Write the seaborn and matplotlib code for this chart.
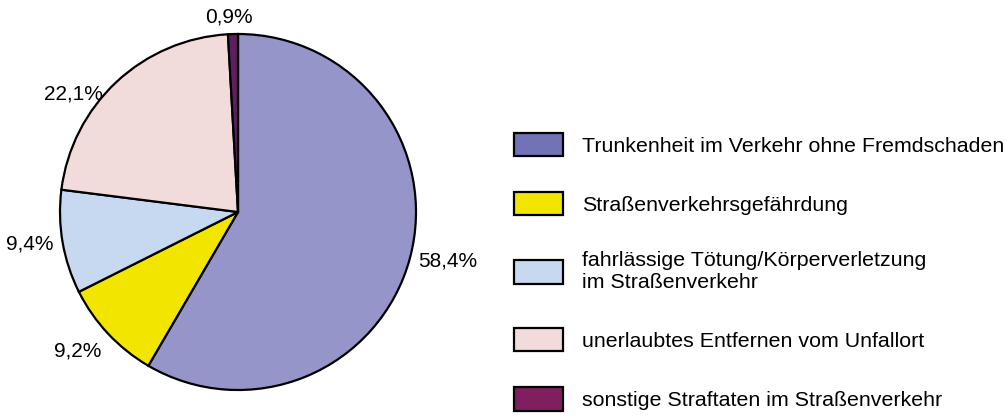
import matplotlib
matplotlib.use("Agg")
import matplotlib.pyplot as plt
from matplotlib.patches import Patch
import seaborn as sns

# Data
categories = [
    "Trunkenheit im Verkehr ohne Fremdschaden",
    "Straßenverkehrsgefährdung",
    "fahrlässige Tötung/Körperverletzung\nim Straßenverkehr",
    "unerlaubtes Entfernen vom Unfallort",
    "sonstige Straftaten im Straßenverkehr",
]
shares = [58.4, 9.2, 9.4, 22.1, 0.9]
pct_labels = ["58,4%", "9,2%", "9,4%", "22,1%", "0,9%"]

pie_colors = ["#9595C9", "#F2E600", "#C6D9F1", "#F2DCDB", "#5E1F5E"]
legend_colors = ["#7173B6", "#F2E600", "#C6D9F1", "#F2DCDB", "#7F1F5F"]

sns.set_theme(style="white")
plt.rcParams["font.family"] = ["Liberation Sans", "DejaVu Sans"]
plt.rcParams["text.color"] = "black"

fig = plt.figure(figsize=(10.07, 4.19), dpi=100)
ax = fig.add_axes([60 / 1007, 29 / 419, 356 / 1007, 356 / 419])

wedges, texts = ax.pie(
    shares,
    labels=pct_labels,
    colors=pie_colors,
    startangle=90,
    counterclock=False,
    labeldistance=1.05,
    wedgeprops=dict(edgecolor="black", linewidth=1.6),
    textprops=dict(fontsize=15, color="black"),
)
texts[-1].set_horizontalalignment("center")

# small nudges of the label placement to match the original layout
nudges = {1: (0.0, -0.06), 3: (-0.045, -0.105), 4: (-0.02, 0.045)}
for i, (dx, dy) in nudges.items():
    x, y = texts[i].get_position()
    texts[i].set_position((x + dx, y + dy))

ax.set_xlim(-1, 1)
ax.set_ylim(-1, 1)
ax.set_aspect("equal")

handles = [Patch(facecolor=c, edgecolor="black", linewidth=1.6) for c in legend_colors]
fig.legend(
    handles,
    categories,
    loc="upper left",
    bbox_to_anchor=(503 / 1007, 1 - 122 / 419),
    frameon=False,
    fontsize=15.4,
    handlelength=2.3,
    handleheight=1.3,
    handletextpad=0.9,
    labelspacing=1.68,
    borderpad=0,
)

fig.savefig("out.png", dpi=100, facecolor="white")
